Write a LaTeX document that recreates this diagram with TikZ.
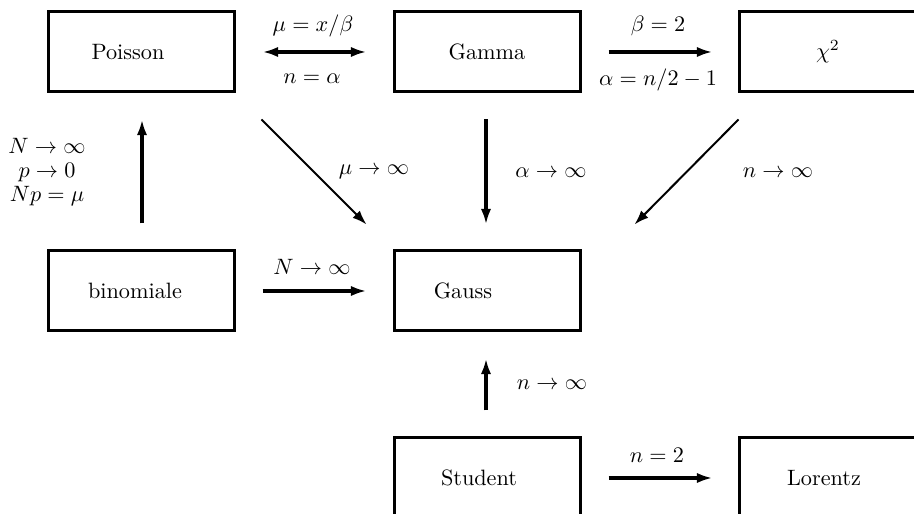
\documentclass[tikz,border=0pt]{standalone}
\usetikzlibrary{arrows.meta,calc}
\begin{document}
\begin{tikzpicture}[x=0.45pt,y=-0.45pt,
  distbox/.style={draw,line width=1.35pt,rectangle,minimum width=83.7pt,minimum height=36pt,inner sep=0pt},
  lbl/.style={inner sep=0pt,font=\fontsize{10}{10.8}\selectfont},
  thickarrow/.style={line width=1.8pt,-{Latex[length=7pt,width=4.6pt]}},
  thinarrow/.style={line width=0.9pt,-{Latex[length=6.5pt,width=4.6pt]}}]
\useasboundingbox (0,0) rectangle (914,514);
\clip (0,0) rectangle (914,514);
% boxes
\node[distbox] (poisson) at (141,52) {};
\node[distbox] (gamma) at (487,52) {};
\node[distbox] (chi) at (832,52) {};
\node[distbox] (binom) at (141,291) {};
\node[distbox] (gauss) at (487,291) {};
\node[distbox] (student) at (487,478) {};
\node[distbox] (lorentz) at (832,478) {};
% box texts
\node[lbl] (poissonT) at (128,52) {Poisson};
\node[lbl] (gammaT) at (487,52) {Gamma};
\node[lbl] (chiT) at (828,52) {$\chi^2$};
\node[lbl] (binomT) at (135,291) {binomiale};
\node[lbl] (gaussT) at (463,291) {Gauss};
\node[lbl] (studentT) at (479,478) {Student};
\node[lbl] (lorentzT) at (824,478) {Lorentz};
% connectors
\draw[line width=1.8pt,{Latex[length=7pt,width=4.6pt]}-{Latex[length=7pt,width=4.6pt]}]
  ($(poisson.east)+(27,0)$) -- ($(gamma.west)+(-26,0)$);
\draw[thickarrow] ($(gamma.east)+(27,0)$) -- ($(chi.west)+(-25,0)$);
\draw[thickarrow] ($(binom.east)+(27,0)$) -- ($(gauss.west)+(-26,0)$);
\draw[thickarrow] ($(student.east)+(27,0)$) -- ($(lorentz.west)+(-25,0)$);
\draw[thickarrow] ($(binom.north)+(1,-26)$) -- ($(poisson.south)+(1,26)$);
\draw[thickarrow] ($(gamma.south)+(-1,26)$) -- ($(gauss.north)+(-1,-25)$);
\draw[thickarrow] ($(student.north)+(-1,-26)$) -- ($(gauss.south)+(-1,26)$);
\draw[thinarrow] ($(poisson.south east)+(26,26)$) -- ($(gauss.north west)+(-26,-25)$);
\draw[thinarrow] ($(chi.south west)+(1,26)$) -- ($(gauss.north east)+(53,-25)$);
% connector labels
\node[lbl] (l1) at (313,26) {$\mu = x/\beta$};
\node[lbl] (l2) at (312,79) {$n = \alpha$};
\node[lbl] (l3) at (658,26) {$\beta = 2$};
\node[lbl] (l4) at (658,80) {$\alpha = n/2 - 1$};
\node[lbl,align=center] (l5) at (47,172) {$N\to\infty$\\$p\to 0$\\$Np=\mu$};
\node[lbl] (l6) at (374,172) {$\mu\to\infty$};
\node[lbl] (l7) at (551,173) {$\alpha\to\infty$};
\node[lbl] (l8) at (778,173) {$n\to\infty$};
\node[lbl] (l9) at (312,267) {$N\to\infty$};
\node[lbl] (l10) at (552,385) {$n\to\infty$};
\node[lbl] (l11) at (657,455) {$n = 2$};
\end{tikzpicture}
\end{document}
